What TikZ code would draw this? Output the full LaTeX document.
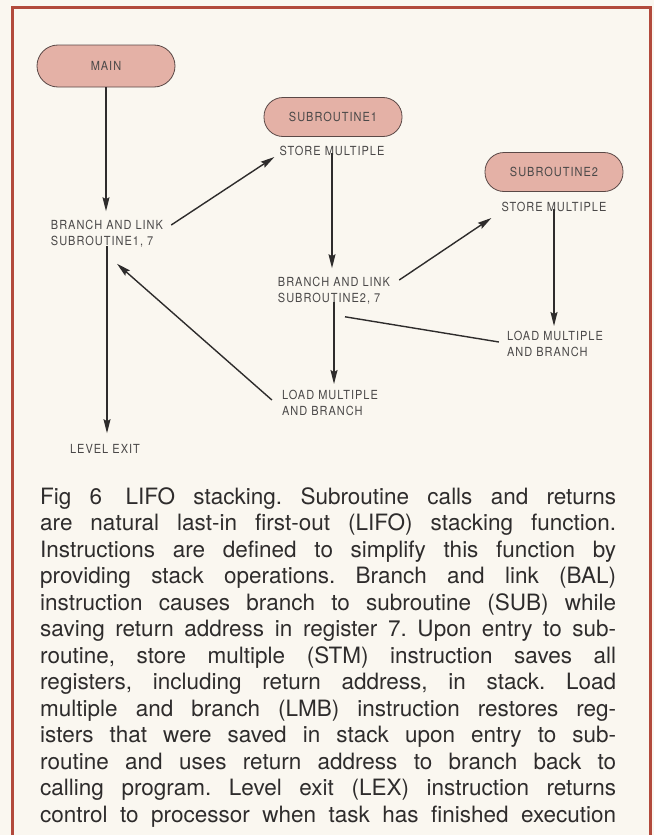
\documentclass[tikz,border=0pt]{standalone}
\usepackage{fontspec}
\setmainfont{TeX Gyre Heros}
\newfontfamily\labfont[FakeStretch=0.88,LetterSpace=8]{TeX Gyre Heros}
\usetikzlibrary{arrows.meta,calc}
\definecolor{bg}{HTML}{FAF7F0}
\definecolor{frame}{HTML}{B24A3C}
\definecolor{pill}{HTML}{E4B1A6}
\definecolor{pilledge}{HTML}{5A4846}
\definecolor{ink}{HTML}{2E2C2C}
\definecolor{labink}{HTML}{4A4848}
\tikzset{
  pillbox/.style={draw=pilledge, fill=pill, line width=0.8pt, rounded corners=19pt,
    minimum width=138pt, minimum height=39pt, inner sep=0pt,
    font=\labfont\fontsize{12.5}{14}\selectfont, text=labink},
  lab/.style={font=\labfont\fontsize{12.5}{16}\selectfont, text=labink, align=left, inner sep=3pt},
  arr/.style={draw=ink, line width=1.4pt, -{Stealth[length=14pt,width=7pt,inset=2pt]}},
  plain/.style={draw=ink, line width=1.4pt},
  captext/.style={font=\fontsize{22.5}{26.5}\selectfont, text=ink, align=left, inner sep=0pt, anchor=north west}
}
\frenchspacing
\begin{document}
\begin{tikzpicture}[x=1pt,y=-1pt]
\useasboundingbox (0,0) rectangle (654,835);
\fill[bg] (0,0) rectangle (654,835);
\draw[frame, line width=3pt] (12,845) -- (12,7.5) -- (650,7.5) -- (650,845);

% nodes
\node[pillbox, minimum height=42pt, rounded corners=21pt] (main) at (106,66) {MAIN};
\node[pillbox] (sub1) at (333,117) {SUBROUTINE1};
\node[lab] (sm1) at (332,151) {STORE MULTIPLE};
\node[pillbox] (sub2) at (554,172) {SUBROUTINE2};
\node[lab] (sm2) at (554,207) {STORE MULTIPLE};
\node[lab] (bal1) at (107,234) {BRANCH AND LINK\\SUBROUTINE1, 7};
\node[lab] (bal2) at (334,291) {BRANCH AND LINK\\SUBROUTINE2, 7};
\node[lab] (lmb1) at (330,403) {LOAD MULTIPLE\\AND BRANCH};
\node[lab] (lmb2) at (555,344) {LOAD MULTIPLE\\AND BRANCH};
\node[lab] (lex) at (105,449) {LEVEL EXIT};

% connectors
\draw[arr] (main.south) -- ($(main.south |- bal1.north)+(0,-6)$);
\draw[arr] ([shift={(5,-9)}]bal1.east) -- ([shift={(-2,6)}]sm1.west);
\draw[arr] ([yshift=5]bal1.south) -- ($(bal1.south |- lex.north)+(0,-8)$);
\draw[arr] ([shift={(-7,-3)}]lmb1.west) -- ([shift={(10,13)}]bal1.south);
\draw[arr] ([yshift=6]sm1.south) -- ($(sm1.south |- bal2.north)+(0,-6)$);
\draw[arr] ([shift={(6,-11)}]bal2.east) -- ([shift={(-7,11)}]sm2.west);
\draw[arr] ([yshift=6]sm2.south) -- ($(sm2.south |- lmb2.north)+(0,-2)$);
\draw[plain] ([shift={(11,9)}]bal2.south) -- ([shift={(-5,-2)}]lmb2.west);
\draw[arr] ([yshift=6]bal2.south) -- ($(bal2.south |- lmb1.north)+(0,-3)$);

% caption
\node[captext] (cap) at (40,487) {%
\makebox[576pt][s]{Fig 6\hspace{5pt} LIFO stacking. Subroutine calls and returns}\\
\makebox[576pt][s]{are natural last-in first-out (LIFO) stacking function.}\\
\makebox[576pt][s]{Instructions are defined to simplify this function by}\\
\makebox[576pt][s]{providing stack operations. Branch and link (BAL)}\\
\makebox[576pt][s]{instruction causes branch to subroutine (SUB) while}\\
\makebox[576pt][s]{saving return address in register 7. Upon entry to sub-}\\
\makebox[576pt][s]{routine, store multiple (STM) instruction saves all}\\
\makebox[576pt][s]{registers, including return address, in stack. Load}\\
\makebox[576pt][s]{multiple and branch (LMB) instruction restores reg-}\\
\makebox[576pt][s]{isters that were saved in stack upon entry to sub-}\\
\makebox[576pt][s]{routine and uses return address to branch back to}\\
\makebox[576pt][s]{calling program. Level exit (LEX) instruction returns}\\
\makebox[576pt][s]{control to processor when task has finished execution}};
\end{tikzpicture}
\end{document}
